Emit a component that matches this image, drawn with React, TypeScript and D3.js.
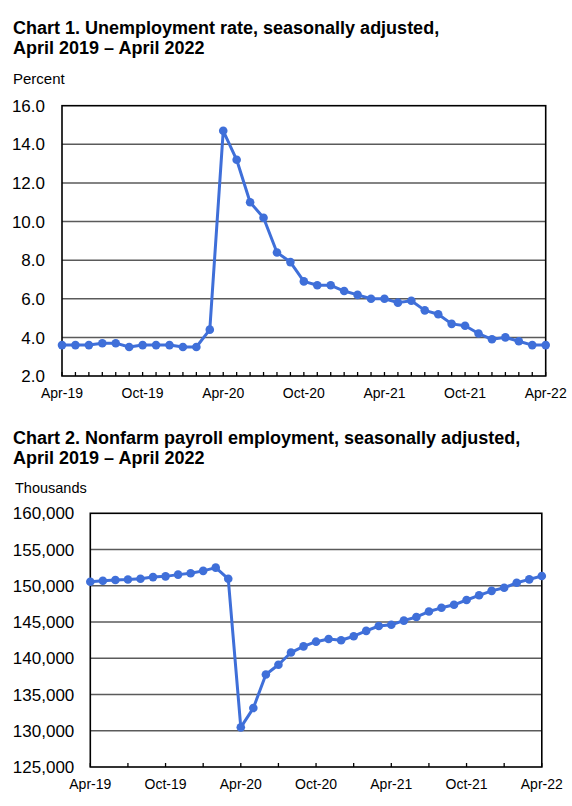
import React from "react";
import * as d3 from "d3";

const months: string[] = [
  "Apr-19","May-19","Jun-19","Jul-19","Aug-19","Sep-19","Oct-19","Nov-19","Dec-19",
  "Jan-20","Feb-20","Mar-20","Apr-20","May-20","Jun-20","Jul-20","Aug-20","Sep-20","Oct-20","Nov-20","Dec-20",
  "Jan-21","Feb-21","Mar-21","Apr-21","May-21","Jun-21","Jul-21","Aug-21","Sep-21","Oct-21","Nov-21","Dec-21",
  "Jan-22","Feb-22","Mar-22","Apr-22",
];

const unemploymentRate: number[] = [
  3.6, 3.6, 3.6, 3.7, 3.7, 3.5, 3.6, 3.6, 3.6,
  3.5, 3.5, 4.4, 14.7, 13.2, 11.0, 10.2, 8.4, 7.9, 6.9, 6.7, 6.7,
  6.4, 6.2, 6.0, 6.0, 5.8, 5.9, 5.4, 5.2, 4.7, 4.6, 4.2, 3.9,
  4.0, 3.8, 3.6, 3.6,
];

const payrollEmployment: number[] = [
  150560, 150700, 150800, 150860, 150980, 151200, 151300, 151540, 151730,
  152060, 152500, 150960, 130470, 133130, 137760, 139110, 140790, 141640, 142290, 142660, 142480,
  143040, 143780, 144450, 144630, 145190, 145700, 146450, 146960, 147380, 148040, 148690, 149300,
  149720, 150420, 150890, 151360,
];

const xTickLabels: string[] = ["Apr-19", "Oct-19", "Apr-20", "Oct-20", "Apr-21", "Oct-21", "Apr-22"];
const rateTicks: number[] = [2, 4, 6, 8, 10, 12, 14, 16];
const payrollTicks: number[] = [125000, 130000, 135000, 140000, 145000, 150000, 155000, 160000];

const FONT = "'Liberation Sans', Arial, Helvetica, sans-serif";
const BLUE = "#3f6fd9";
const GRID = "#5a5a5a";

type ChartProps = {
  values: number[];
  yTicks: number[];
  yFormat: (v: number) => string;
  left: number;
  right: number;
  top: number;
  bottom: number;
  tickEvery: number;
  labelY: number;
  yLabelGap: number;
};

function LineChart(p: ChartProps) {
  const x = d3.scaleLinear().domain([0, months.length - 1]).range([p.left, p.right]);
  const y = d3
    .scaleLinear()
    .domain([d3.min(p.yTicks) as number, d3.max(p.yTicks) as number])
    .range([p.bottom, p.top]);
  const line = d3
    .line<number>()
    .x((_, i) => x(i))
    .y((d) => y(d));
  const tickIdx = d3.range(0, months.length, p.tickEvery);
  return (
    <g>
      {p.yTicks.slice(1, -1).map((t) => (
        <line key={"g" + t} x1={p.left} x2={p.right} y1={y(t)} y2={y(t)} stroke={GRID} strokeWidth={1.5} />
      ))}
      {tickIdx.map((i) => (
        <line key={"t" + i} x1={x(i)} x2={x(i)} y1={p.bottom} y2={p.bottom - 4} stroke="#000" strokeWidth={1.3} />
      ))}
      <rect x={p.left} y={p.top} width={p.right - p.left} height={p.bottom - p.top} fill="none" stroke="#000" strokeWidth={1.6} />
      {p.yTicks.map((t) => (
        <text key={"yl" + t} x={p.left - p.yLabelGap} y={y(t)} dy="0.36em" textAnchor="end" fontSize={17} fontFamily={FONT} fill="#000">
          {p.yFormat(t)}
        </text>
      ))}
      {months.map((m, i) =>
        xTickLabels.includes(m) ? (
          <text key={"xl" + m} x={x(i)} y={p.labelY} textAnchor="middle" fontSize={14} fontFamily={FONT} fill="#000">
            {m}
          </text>
        ) : null
      )}
      <path d={line(p.values) || ""} fill="none" stroke={BLUE} strokeWidth={3} strokeLinejoin="round" />
      {p.values.map((v, i) => (
        <circle key={"c" + i} cx={x(i)} cy={y(v)} r={4.3} fill={BLUE} />
      ))}
    </g>
  );
}

export default function App() {
  const commaFmt = d3.format(",");
  const oneDec = d3.format(".1f");
  return (
    <div style={{ position: "absolute", left: 0, top: 0 }}>
      <style>{`body{margin:0}`}</style>
      <svg width={572} height={806} viewBox="0 0 572 806" style={{ display: "block", background: "#fff" }}>
        <rect x={0} y={0} width={572} height={806} fill="#fff" />
        <text x={13} y={34} fontSize={18} fontWeight="bold" fontFamily={FONT} fill="#000">
          Chart 1. Unemployment rate, seasonally adjusted,
        </text>
        <text x={13} y={53.5} fontSize={18} fontWeight="bold" fontFamily={FONT} fill="#000">
          April 2019 – April 2022
        </text>
        <text x={13} y={84} fontSize={15} fontFamily={FONT} fill="#000">
          Percent
        </text>
        <LineChart
          values={unemploymentRate}
          yTicks={rateTicks}
          yFormat={oneDec}
          left={62}
          right={545.7}
          top={105.7}
          bottom={376}
          tickEvery={1}
          labelY={398}
          yLabelGap={17}
        />
        <text x={13} y={444} fontSize={18} fontWeight="bold" fontFamily={FONT} fill="#000">
          Chart 2. Nonfarm payroll employment, seasonally adjusted,
        </text>
        <text x={13} y={463.5} fontSize={18} fontWeight="bold" fontFamily={FONT} fill="#000">
          April 2019 – April 2022
        </text>
        <text x={15} y={493} fontSize={14.5} fontFamily={FONT} fill="#000">
          Thousands
        </text>
        <LineChart
          values={payrollEmployment}
          yTicks={payrollTicks}
          yFormat={commaFmt}
          left={90.3}
          right={541.8}
          top={513.3}
          bottom={767}
          tickEvery={3}
          labelY={789}
          yLabelGap={16}
        />
      </svg>
    </div>
  );
}
